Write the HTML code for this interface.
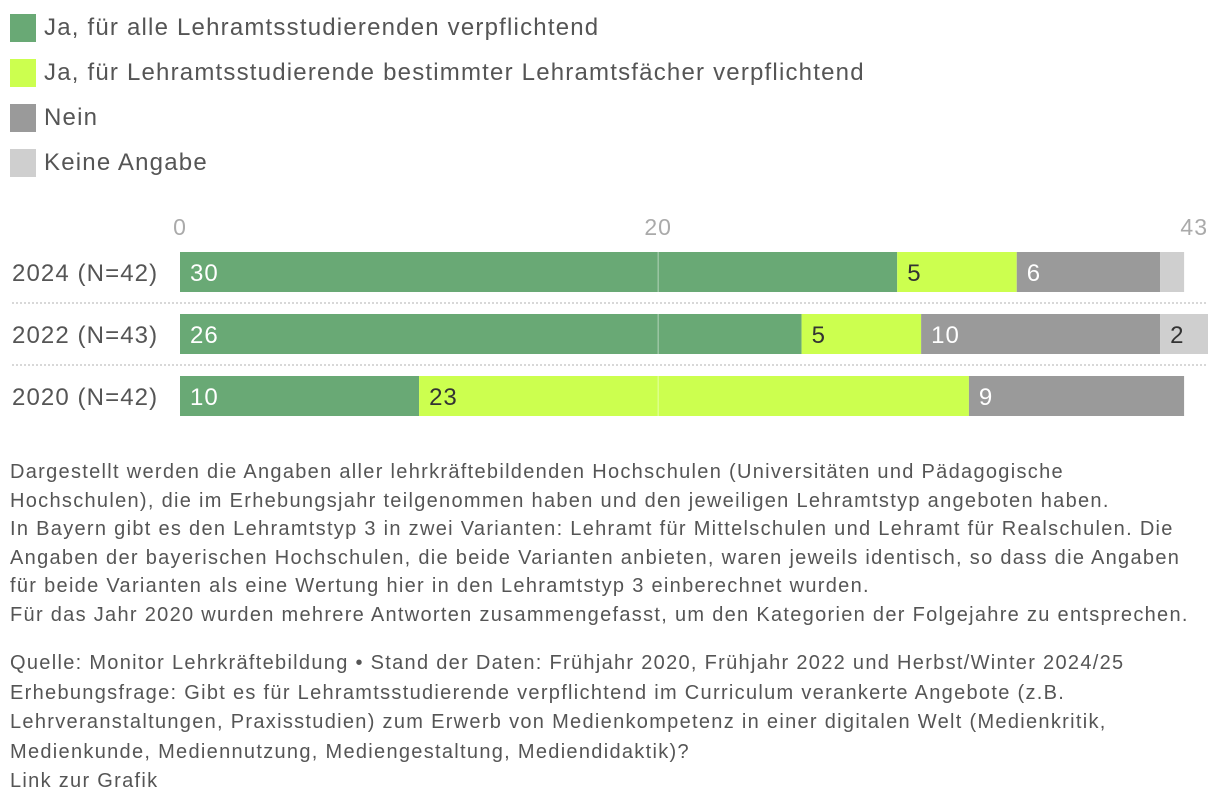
<!DOCTYPE html>
<html><head><meta charset="utf-8"><style>
body{margin:0;width:1220px;height:808px;background:#fff;font-family:"Liberation Sans",sans-serif;color:#555;position:relative;overflow:hidden}
.lg{position:absolute;left:10px;font-size:24px;color:#555;display:flex;align-items:center;letter-spacing:1.2px}
.lg span.sw{width:26px;height:28px;margin-right:8px;display:inline-block}
.fn{position:absolute;left:10px;font-size:20px;color:#555;white-space:nowrap;letter-spacing:1.3px}
</style></head><body>
<div class="lg" style="top:14px"><span class="sw" style="background:#69a975"></span>Ja, für alle Lehramtsstudierenden verpflichtend</div>
<div class="lg" style="top:59px"><span class="sw" style="background:#ccff4f"></span>Ja, für Lehramtsstudierende bestimmter Lehramtsfächer verpflichtend</div>
<div class="lg" style="top:104px"><span class="sw" style="background:#9a9a9a"></span>Nein</div>
<div class="lg" style="top:149px"><span class="sw" style="background:#cfcfcf"></span>Keine Angabe</div>
<svg id="chart" width="1220" height="430" style="position:absolute;left:0;top:0"></svg>
<div class="fn" style="top:458px;line-height:28.6px">Dargestellt werden die Angaben aller lehrkräftebildenden Hochschulen (Universitäten und Pädagogische<br>Hochschulen), die im Erhebungsjahr teilgenommen haben und den jeweiligen Lehramtstyp angeboten haben.<br>In Bayern gibt es den Lehramtstyp 3 in zwei Varianten: Lehramt für Mittelschulen und Lehramt für Realschulen. Die<br>Angaben der bayerischen Hochschulen, die beide Varianten anbieten, waren jeweils identisch, so dass die Angaben<br>für beide Varianten als eine Wertung hier in den Lehramtstyp 3 einberechnet wurden.<br>Für das Jahr 2020 wurden mehrere Antworten zusammengefasst, um den Kategorien der Folgejahre zu entsprechen.</div>
<div class="fn" style="top:649px;line-height:29.5px">Quelle: Monitor Lehrkräftebildung • Stand der Daten: Frühjahr 2020, Frühjahr 2022 und Herbst/Winter 2024/25<br>Erhebungsfrage: Gibt es für Lehramtsstudierende verpflichtend im Curriculum verankerte Angebote (z.B.<br>Lehrveranstaltungen, Praxisstudien) zum Erwerb von Medienkompetenz in einer digitalen Welt (Medienkritik,<br>Medienkunde, Mediennutzung, Mediengestaltung, Mediendidaktik)?<br><span>Link zur Grafik</span></div>
<script>
const categories=["2024 (N=42)","2022 (N=43)","2020 (N=42)"];
const seriesAll=[30,26,10];
const seriesSome=[5,5,23];
const seriesNo=[6,10,9];
const seriesNA=[1,2,0];
const tickLabels=[0,20,43];
const colors=["#69a975","#ccff4f","#9a9a9a","#cfcfcf"];
const textColors=["#fff","#333","#fff","#333"];
const NS="http://www.w3.org/2000/svg";
const svg=document.getElementById('chart');
const x0=180,xMax=1208,maxV=43;
const xs=v=>x0+v*(xMax-x0)/maxV;
const rowY=i=>252+i*62;
function mk(t,a){const e=document.createElementNS(NS,t);for(const k in a)e.setAttribute(k,a[k]);svg.appendChild(e);return e;}
tickLabels.forEach((t,i)=>{
 const e=mk('text',{x:xs(t),y:235,'font-size':23,fill:'#aaa','text-anchor':i==tickLabels.length-1?'end':'middle','font-family':'Liberation Sans, sans-serif','letter-spacing':1});
 e.textContent=t;
 
 
});
const series=[seriesAll,seriesSome,seriesNo,seriesNA];
categories.forEach((c,i)=>{
 const y=rowY(i);
 const l=mk('text',{x:12,y:y+29,'font-size':24,fill:'#555','font-family':'Liberation Sans, sans-serif','letter-spacing':1.1});
 l.textContent=c;
 
 
 let acc=0;
 series.forEach((s,k)=>{
  const v=s[i]; if(!v) return;
  const r=mk('rect',{x:xs(acc),y:y,width:xs(acc+v)-xs(acc),height:40,fill:colors[k]});
  
  
  if(v>1){
   const t=mk('text',{x:xs(acc)+10,y:y+29,'font-size':24,fill:textColors[k],'font-family':'Liberation Sans, sans-serif','letter-spacing':1});
   t.textContent=v;
   
   
  }
  acc+=v;
 });
 if(i<categories.length-1){
  const ln=mk('line',{x1:12,x2:1208,y1:y+51,y2:y+51,stroke:'#ccc','stroke-width':1.5,'stroke-dasharray':'2,2'});
  
  
 }
});
const g=mk('line',{x1:xs(20),x2:xs(20),y1:252,y2:416,stroke:'#fff','stroke-opacity':0.5,'stroke-width':1});


</script>
</body></html>
